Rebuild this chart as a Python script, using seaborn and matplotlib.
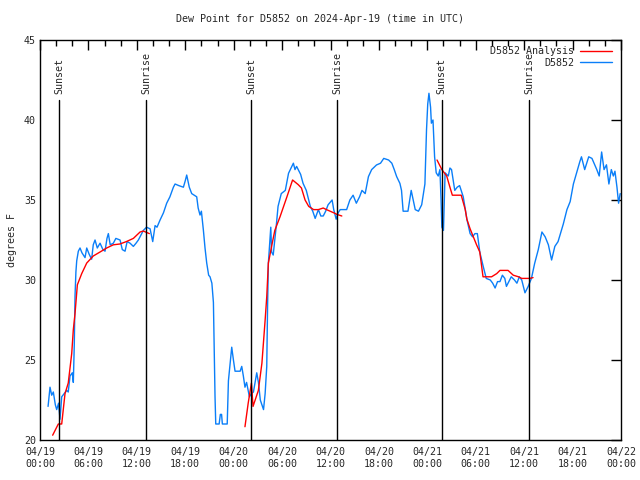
import matplotlib
matplotlib.use('Agg')  # no display
import matplotlib.pyplot as plt
from matplotlib.lines import Line2D
from matplotlib.ticker import MultipleLocator
import seaborn as sns
import pandas as pd

# ── Data (hours since 2024-04-19 00:00 UTC, degrees F) ─────────────────────
dew_hours = [
    1.0, 1.24, 1.45, 1.65, 1.9, 2.07, 2.3, 2.48, 2.69, 3.0, 3.31, 3.5, 3.72, 4.0,
    4.13, 4.25, 4.34, 4.45, 4.55, 4.75, 4.96, 5.2, 5.58, 5.79, 6.1, 6.4, 6.6, 6.82,
    7.1, 7.44, 7.8, 8.06, 8.3, 8.47, 8.7, 9.09, 9.4, 9.92, 10.2, 10.54, 10.8, 11.16,
    11.57, 11.9, 12.19, 12.5, 12.81, 13.2, 13.64, 13.97, 14.26, 14.5, 14.88, 15.3,
    15.7, 16.1, 16.53, 16.74, 17.2, 17.77, 18.0, 18.18, 18.5, 18.8, 19.1, 19.42,
    19.6, 19.83, 20.0, 20.25, 20.45, 20.66, 20.9, 21.07, 21.3, 21.49, 21.57, 21.69,
    21.78, 22.2, 22.35, 22.5, 22.6, 23.2, 23.35, 23.64, 23.76, 23.97, 24.17, 24.5,
    24.8, 25.0, 25.2, 25.4, 25.6, 25.95, 26.2, 26.45, 26.86, 27.07, 27.3, 27.5,
    27.7, 27.9, 28.1, 28.2, 28.3, 28.6, 28.7, 28.9, 29.3, 29.5, 29.9, 30.4, 30.8,
    31.4, 31.6, 31.8, 32.0, 32.3, 32.6, 33.0, 33.5, 33.8, 34.1, 34.5, 34.8, 35.1,
    35.4, 35.7, 36.2, 36.4, 36.7, 36.95, 37.2, 38.0, 38.4, 38.8, 39.2, 39.6, 39.9,
    40.3, 40.7, 41.1, 41.7, 42.2, 42.6, 43.2, 43.6, 43.9, 44.2, 44.6, 44.8, 45.0,
    45.6, 46.0, 46.5, 46.9, 47.3, 47.7, 47.9, 48.05, 48.2, 48.4, 48.5, 48.7, 48.9,
    49.1, 49.35, 49.56, 49.7, 49.8, 50.0, 50.2, 50.6, 50.8, 51.0, 51.4, 51.7, 52.0,
    52.45, 52.9, 53.3, 53.6, 53.9, 54.2, 54.5, 54.9, 55.3, 55.8, 56.1, 56.4, 56.7,
    57.0, 57.3, 57.6, 57.8, 58.1, 58.4, 58.8, 59.1, 59.4, 59.7, 60.1, 60.5, 60.9,
    61.3, 61.75, 62.2, 62.6, 63.0, 63.4, 63.8, 64.2, 64.85, 65.3, 65.7, 66.1, 66.5,
    66.9, 67.1, 67.5, 68.0, 68.4, 69.0, 69.3, 69.6, 69.9, 70.2, 70.5, 70.8, 71.05,
    71.25, 71.5, 71.7, 71.9,
]
dew_f = [
    22.1, 23.3, 22.8, 23.0, 22.2, 21.9, 22.3, 21.3, 22.7, 22.9, 23.1, 23.0, 24.0, 24.2,
    23.6, 26.0, 29.0, 30.5, 31.2, 31.8, 32.0, 31.7, 31.4, 32.0, 31.6, 31.3, 32.2, 32.5,
    32.0, 32.3, 31.9, 31.8, 32.6, 32.9, 32.2, 32.3, 32.6, 32.5, 31.9, 31.8, 32.4, 32.3,
    32.1, 32.3, 32.5, 32.8, 33.1, 33.3, 33.2, 32.4, 33.4, 33.3, 33.75, 34.2,
    34.8, 35.2, 35.8, 36.0, 35.9, 35.8, 36.2, 36.56, 35.8, 35.4, 35.3, 35.2,
    34.5, 34.06, 34.3, 33.1, 32.0, 31.06, 30.3, 30.2, 29.8, 28.6, 26.3, 22.7,
    21.0, 21.0, 21.6, 21.6, 21.0, 21.0, 23.7, 25.2, 25.8, 25.0, 24.3, 24.3,
    24.3, 24.6, 24.0, 23.3, 23.6, 22.7, 22.9, 23.0, 24.2, 23.6, 22.5, 22.2,
    21.9, 22.9, 24.6, 28.3, 31.06, 33.3, 31.75, 31.56, 33.5, 34.6, 35.4, 35.6, 36.67,
    37.3, 36.9, 37.1, 36.9, 36.6, 36.04, 35.6, 34.6, 34.3, 33.85, 34.4, 34.0, 34.0,
    34.3, 34.7, 35.0, 34.4, 33.8, 34.2, 34.4, 34.4, 35.0, 35.3, 34.8, 35.2, 35.6,
    35.4, 36.46, 36.9, 37.19, 37.3, 37.6, 37.5, 37.3, 36.9, 36.46, 36.04, 35.6, 34.3,
    34.3, 35.6, 34.4, 34.3, 34.7, 36.0, 39.4, 41.0, 41.67, 40.8, 39.8, 40.0, 37.7,
    36.7, 36.5, 36.9, 35.0, 33.3, 33.1, 36.7, 36.5, 37.0, 36.9, 35.6, 35.8, 35.9,
    35.2, 33.8, 32.9, 32.7, 32.9, 32.9, 31.75, 30.9, 30.1, 30.0, 29.8, 29.5, 29.9,
    29.9, 30.3, 30.1, 29.6, 29.9, 30.2, 30.0, 29.8, 30.2, 30.0, 29.2, 29.6, 30.1,
    31.04, 31.9, 33.0, 32.7, 32.2, 31.25, 32.1, 32.4, 33.5, 34.4, 34.9, 36.0, 36.7,
    37.4, 37.7, 36.9, 37.7, 37.6, 36.9, 36.5, 38.0, 36.9, 37.2, 36.0, 36.9, 36.5,
    36.8, 35.8, 34.8, 35.4,
]

# analysis comes in three separate runs (one per evening)
analysis_hours_1 = [1.57, 2.27, 2.69, 3.1, 3.5, 3.93, 4.13, 4.34, 4.63, 5.17, 5.79,
                    6.6, 7.44, 8.26, 9.09, 9.9, 10.7, 11.57, 12.4, 12.8, 13.55]
analysis_f_1 = [20.3, 21.0, 21.0, 22.9, 23.56, 25.4, 26.9, 27.9, 29.7, 30.4, 31.06,
                31.5, 31.75, 32.0, 32.2, 32.25, 32.4, 32.6, 33.0, 33.06, 32.9]
analysis_hours_2 = [25.4, 25.8, 26.2, 26.4, 27.06, 27.5, 27.9, 28.1, 28.3, 28.7,
                    29.1, 29.75, 30.6, 31.3, 32.0, 32.4, 32.85, 33.3, 33.9, 34.5,
                    35.1, 35.5, 36.4, 36.8, 37.4]
analysis_f_2 = [20.83, 22.3, 23.56, 22.1, 23.1, 24.8, 27.5, 28.96, 31.06, 32.1,
                33.1, 33.96, 35.2, 36.25, 35.96, 35.75, 35.0, 34.6, 34.4, 34.4,
                34.5, 34.4, 34.2, 34.1, 34.0]
analysis_hours_3 = [49.2, 49.8, 50.4, 50.8, 51.1, 52.0, 52.2, 52.7, 52.9, 53.3,
                    53.7, 54.1, 54.5, 54.9, 55.3, 55.96, 56.6, 57.0, 58.0, 58.65,
                    59.3, 59.7, 60.7, 61.1]
analysis_f_3 = [37.5, 36.9, 36.5, 35.8, 35.3, 35.3, 35.3, 34.4, 33.8, 33.2,
                32.7, 32.2, 31.75, 30.2, 30.2, 30.2, 30.4, 30.6, 30.6, 30.3,
                30.2, 30.1, 30.1, 30.15]

sun_hours = [2.35, 13.15, 26.15, 36.85, 49.8, 60.6]
sun_labels = ['Sunset', 'Sunrise', 'Sunset', 'Sunrise', 'Sunset', 'Sunrise']

tick_hours = list(range(0, 73, 6))
tick_labels = ['04/19\n00:00', '04/19\n06:00', '04/19\n12:00', '04/19\n18:00',
               '04/20\n00:00', '04/20\n06:00', '04/20\n12:00', '04/20\n18:00',
               '04/21\n00:00', '04/21\n06:00', '04/21\n12:00', '04/21\n18:00',
               '04/22\n00:00']

BLUE = '#0a7ef8'
RED = '#ff0000'

# ── Plot ──────────────────────────────────────────────────────────────────
sns.set_style('white')
plt.rcParams['font.family'] = ['DejaVu Sans Mono']
plt.rcParams['font.size'] = 7.2

fig = plt.figure(figsize=(6.4, 4.8), dpi=100)
ax = fig.add_axes([40 / 640, 40 / 480, 581 / 640, 400 / 480])

dew = pd.DataFrame({'hour': dew_hours, 'dew': dew_f})
sns.lineplot(data=dew, x='hour', y='dew', color=BLUE, lw=1, ax=ax)

for hrs, vals in [(analysis_hours_1, analysis_f_1),
                  (analysis_hours_2, analysis_f_2),
                  (analysis_hours_3, analysis_f_3)]:
    seg = pd.DataFrame({'hour': hrs, 'dew': vals})
    sns.lineplot(data=seg, x='hour', y='dew', color=RED, lw=1, ax=ax)

for h, lab in zip(sun_hours, sun_labels):
    ax.axvline(h, ymin=0, ymax=0.85, color='black', lw=1)
    ax.text(h, 41.6, lab, rotation=90, ha='center', va='bottom', fontsize=7.2)

ax.set_xlim(0, 72)
ax.set_ylim(20, 45)
ax.set_xticks(tick_hours)
ax.set_xticklabels(tick_labels)
ax.xaxis.set_minor_locator(MultipleLocator(2))
ax.set_yticks([20, 25, 30, 35, 40, 45])
ax.tick_params(which='both', direction='in', top=True, right=True,
               color='black', width=1, labelsize=7.2)
ax.tick_params(axis='x', pad=5)
ax.tick_params(axis='y', pad=3)
ax.tick_params(which='major', length=7)
ax.tick_params(which='minor', length=4)
for sp in ax.spines.values():
    sp.set_color('black')
    sp.set_linewidth(1)

ax.set_xlabel('')
ax.set_ylabel('degrees F', fontsize=7.2, labelpad=5)
fig.text(0.5, 0.96, 'Dew Point for D5852 on 2024-Apr-19 (time in UTC)',
         ha='center', va='center', fontsize=7.2)

handles = [Line2D([], [], color=RED, lw=1), Line2D([], [], color=BLUE, lw=1)]
ax.legend(handles, ['D5852 Analysis', 'D5852'], loc='upper right',
          bbox_to_anchor=(1.0, 1.007), frameon=False, markerfirst=False,
          handlelength=3.2, handletextpad=0.6, labelspacing=0.15, fontsize=7.2)

fig.savefig('out.png', dpi=100)
